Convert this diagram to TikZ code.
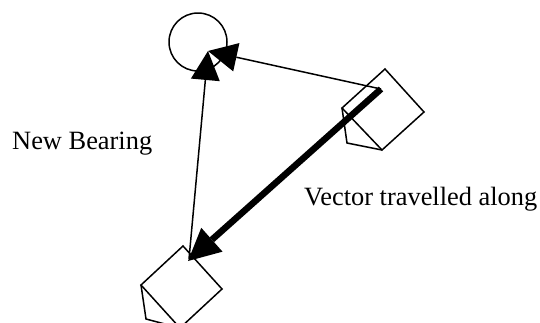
\documentclass[tikz,border=0pt]{standalone}
\usepackage{fontspec}
\setmainfont{Liberation Serif}
\usetikzlibrary{arrows.meta}
\tikzset{
  outline/.style={draw=black,line width=1.5pt,line join=miter},
  thinarrow/.style={draw=black,line width=1.5pt,-{Triangle[length=29pt,width=29pt,line width=0pt]}},
  thickarrow/.style={draw=black,line width=6.5pt,-{Triangle[length=32pt,width=32pt,line width=0pt]}},
  label/.style={font=\fontsize{26.4}{30}\selectfont,inner sep=0pt,anchor=base west}
}
\begin{document}
\begin{tikzpicture}[x=1pt,y=-1pt]
\clip (0,0) rectangle (540,322);
\useasboundingbox (0,0) rectangle (540,322);
\fill[white] (0,0) rectangle (540,322);
\coordinate (c) at (198,42);
\coordinate (a) at (385,69);
\coordinate (b) at (424,112);
\coordinate (d) at (382,150);
\coordinate (e) at (342,108);
\coordinate (f) at (347,143);
\coordinate (g) at (183,246);
\coordinate (h) at (222,289);
\coordinate (i) at (180,328);
\coordinate (j) at (141,285);
\coordinate (k) at (146,319);
\coordinate (start) at (381,89);
\coordinate (tipA) at (208,51);
\coordinate (tipB) at (188,261);
\coordinate (lowStart) at (189,259);
\draw[outline] (c) circle (29);
\draw[outline] (a) -- (b) -- (d) -- (e) -- cycle;
\draw[outline] (e) -- (f) -- (d);
\draw[outline] (g) -- (h) -- (i) -- (j) -- cycle;
\draw[outline] (j) -- (k) -- (i);
\draw[thinarrow] (start) -- (tipA);
\draw[thinarrow] (lowStart) -- (tipA);
\draw[thickarrow] (start) -- (tipB);
\node[label] (nb) at (12,149) {New Bearing};
\node[label] (vt) at (304,205) {Vector travelled along};
\end{tikzpicture}
\end{document}
